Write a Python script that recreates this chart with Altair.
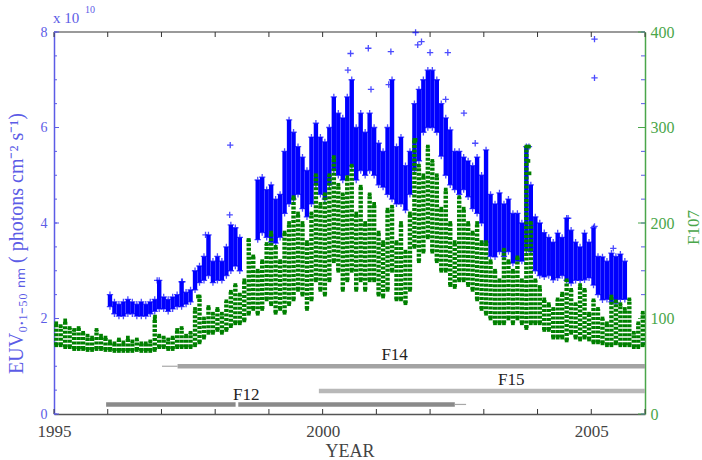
import altair as alt
import pandas as pd

W, H = 591, 382
BLUE = "#0000ff"
GREEN = "#008000"
BLUE_AX = "#5c5ce6"
GREEN_AX = "#4aa64a"
SERIF = "Liberation Serif"

# ---- F10.7 (green), monthly envelope, Jan 1995 .. Dec 2005 ----
green_lo = [
    72, 72, 70, 70, 68, 68, 68, 67, 67, 68, 68, 67,          # 1995
    67, 66, 66, 66, 66, 66, 67, 66, 66, 66, 67, 70,          # 1996
    70, 68, 68, 70, 70, 70, 70, 72, 75, 80, 85, 85,          # 1997
    88, 85, 88, 92, 95, 95, 98, 105, 110, 105, 110, 120,     # 1998
    115, 106, 110, 106, 115, 120, 130, 125, 110, 120, 140, 130,  # 1999
    125, 140, 160, 150, 130, 140, 150, 130, 140, 130, 140, 140,  # 2000
    125, 123, 130, 150, 120, 120, 116, 130, 175, 160, 170, 185,  # 2001
    170, 160, 150, 150, 135, 133, 140, 140, 135, 130, 120, 110,  # 2002
    105, 100, 95, 95, 95, 100, 95, 100, 95, 90, 95, 95,      # 2003
    95, 88, 88, 80, 80, 80, 77, 85, 80, 78, 80, 78,          # 2004
    75, 75, 74, 72, 72, 74, 72, 72, 72, 70, 70, 72,          # 2005
]
green_hi = [
    95, 92, 98, 90, 88, 90, 85, 82, 80, 88, 82, 80,
    76, 74, 78, 75, 80, 76, 78, 74, 74, 76, 100, 82,
    80, 78, 80, 88, 90, 82, 85, 110, 123, 100, 112, 105,
    110, 105, 118, 128, 135, 125, 140, 182, 165, 150, 160, 178,
    190, 175, 160, 190, 200, 227, 210, 200, 180, 210, 250, 220,
    230, 250, 269, 240, 230, 248, 260, 210, 238, 200, 230, 220,
    190, 180, 214, 217, 180, 200, 170, 210, 287, 260, 250, 280,
    265, 250, 215, 235, 200, 180, 227, 215, 200, 190, 200, 180,
    180, 160, 150, 140, 172, 160, 150, 164, 140, 280, 200, 140,
    133, 120, 115, 110, 120, 126, 140, 130, 115, 135, 130, 105,
    119, 110, 100, 95, 123, 118, 115, 110, 120, 85, 95, 106,
]

# ---- EUV 0.1-50 nm (blue, x 1e10), monthly envelope, Jan 1996 .. Aug 2005 ----
blue_lo = [
    2.25, 2.1, 2.05, 2.05, 2.1, 2.1, 2.05, 2.05, 2.05, 2.1, 2.15, 2.2,      # 1996
    2.2, 2.15, 2.2, 2.25, 2.25, 2.3, 2.35, 2.6, 2.75, 2.8, 2.9, 2.75,       # 1997
    2.8, 2.8, 2.9, 3.0, 3.1, 3.0, None, None, None, 3.65, 3.8, 3.7,         # 1998
    3.6, 3.58, 3.7, 4.2, 4.4, 4.5, 4.6, 4.3, 4.13, 4.4, 4.8, 4.6,           # 1999
    4.5, 4.8, 5.11, 5.0, 4.9, 5.0, 5.2, 4.9, 5.1, 5.0, 5.1, 5.0,            # 2000
    4.8, 4.75, 4.6, 4.5, 4.4, 4.4, 4.27, 4.6, 5.1, 5.3, 5.9, 6.0,           # 2001
    6.0, 5.9, 5.4, 5.0, 4.8, 4.7, 4.6, 4.7, 4.55, 4.3, 4.2, 4.0,            # 2002
    3.6, 3.3, 3.29, 3.4, 3.3, 3.4, 3.16, 3.2, 3.2, 3.43, 3.4, 3.0,          # 2003
    2.9, 2.87, 2.9, 2.81, 2.85, 2.9, 2.8, 2.74, 2.8, 2.8, 2.81, 2.85,       # 2004
    2.7, 2.5, 2.39, 2.4, 2.35, 2.32, 2.4, 2.4,                             # 2005
]
blue_hi = [
    2.5, 2.35, 2.3, 2.35, 2.4, 2.35, 2.3, 2.35, 2.3, 2.35, 2.4, 2.8,
    2.45, 2.4, 2.45, 2.5, 2.77, 2.55, 2.6, 3.0, 3.1, 3.3, 3.75, 3.2,
    3.3, 3.2, 3.5, 3.96, 3.9, 3.7, None, None, None, 4.9, 4.96, 4.7,
    4.8, 4.5, 4.6, 5.5, 6.16, 5.9, 5.6, 5.38, 5.1, 5.8, 6.09, 5.8,
    5.7, 6.0, 6.64, 6.3, 6.2, 6.64, 7.0, 6.0, 6.3, 5.9, 6.3, 6.0,
    5.67, 5.5, 6.0, 7.0, 5.6, 5.8, 5.2, 5.5, 6.5, 6.8, 7.0, 7.2,
    7.2, 7.0, 6.5, 6.2, 5.95, 5.5, 5.5, 5.38, 5.3, 5.2, 5.38, 5.0,
    5.53, 4.6, 4.4, 4.63, 4.4, 4.5, 4.2, 4.2, 4.0, 5.6, 4.8, 4.13,
    4.0, 3.8, 3.7, 3.6, 3.79, 3.7, 4.1, 3.85, 3.6, 3.5, 3.79, 3.6,
    3.9, 3.3, 3.29, 3.2, 3.37, 3.3, 3.35, 3.2,
]

# isolated points
blue_out_t = [1996.92, 1997.39, 1997.82, 1998.28, 1998.27, 2000.52, 2000.47, 2000.85, 2000.9,
              2001.27, 2001.23, 2001.73, 2001.77, 2001.84, 2002.0, 2002.33, 2002.29, 2002.63,
              2002.84, 2003.84, 2004.57, 2005.06, 2005.06, 2005.06, 2005.41]
blue_out_v = [2.8, 2.77, 3.75, 5.63, 4.17, 7.55, 7.2, 7.66, 6.8,
              7.59, 6.9, 7.99, 7.73, 7.8, 7.57, 7.57, 6.59, 6.3,
              5.67, 5.6, 4.1, 7.85, 7.04, 3.93, 3.47]
green_out_t = [1996.88, 1997.68, 1998.62, 2001.73, 2003.84, 2003.83, 2003.85]
green_out_v = [102, 123, 182, 287, 280, 265, 252]

# DMSP satellite coverage bars
sat_start = [1997.30, 1999.93, 1995.97, 1998.43]
sat_end = [2006.0, 2006.0, 1998.38, 2002.46]
sat_level = [1.0, 0.48, 0.2, 0.2]
sat_color = ["#a3a3a3", "#b8b8b8", "#8a8a8a", "#8a8a8a"]
thin_start = [1997.01, 2002.46]
thin_end = [1997.30, 2002.67]
thin_level = [1.0, 0.2]
sat_names = ["F14", "F15", "F12"]
sat_name_t = [2001.34, 2003.51, 1998.58]
sat_name_v = [1.24, 0.71, 0.40]

year_ticks = list(range(1995, 2007))
x_label_vals = [1995, 2000, 2005]
euv_major = [0, 2, 4, 6, 8]
euv_minor = [v / 2 for v in range(0, 17)]
f107_major = [0, 100, 200, 300, 400]

gdf = pd.DataFrame({"t": [1995 + (i + 0.5) / 12 for i in range(len(green_lo))],
                    "lo": green_lo, "hi": green_hi})
bdf = pd.DataFrame({"t": [1996 + (i + 0.5) / 12 for i in range(len(blue_lo))],
                    "lo": blue_lo, "hi": blue_hi}).dropna()
bout = pd.DataFrame({"t": blue_out_t, "lo": blue_out_v})
gout = pd.DataFrame({"t": green_out_t, "lo": green_out_v})
sat = pd.DataFrame({"t": sat_start, "e": sat_end, "lo": sat_level, "c": sat_color})
thin = pd.DataFrame({"t": thin_start, "e": thin_end, "lo": thin_level})
names = pd.DataFrame({"n": sat_names, "t": sat_name_t, "lo": sat_name_v})
yrs = pd.DataFrame({"t": year_ticks})
emaj = pd.DataFrame({"lo": euv_major})
emin = pd.DataFrame({"lo": euv_minor})
fmaj = pd.DataFrame({"lo": f107_major})

xscale = alt.Scale(domain=[1995, 2006], nice=False, zero=False)
yL = alt.Scale(domain=[0, 8], nice=False, zero=False)
yR = alt.Scale(domain=[0, 400], nice=False, zero=False)

EUV_TITLE = "EUV₀.₁₋₅₀ ₙₘ ( photons cm⁻² s⁻¹)"

x_axis = alt.Axis(
    values=x_label_vals, format="d", tickSize=0, labelPadding=9, labelFlush=False,
    domainColor="#555555", domainWidth=1.5, labelColor="#444444", labelFontSize=17,
    labelFont=SERIF, titleFont=SERIF,
    title="YEAR", titleColor="#444444", titleFontSize=18, titleFontWeight="normal",
    titlePadding=3, grid=False)
yl_axis = alt.Axis(
    values=euv_major, tickSize=0, labelPadding=7, labelColor=BLUE_AX, labelFontSize=14,
    labelFont=SERIF, titleFont=SERIF,
    domainColor=BLUE_AX, domainWidth=1.5, grid=False,
    title=EUV_TITLE, titleColor=BLUE_AX, titleFontSize=20,
    titleFontWeight="normal", titleAngle=270, titleX=-32, titleY=211,
    titleAlign="center", titleBaseline="alphabetic")
yr_axis = alt.Axis(
    orient="right", values=f107_major, tickSize=0, labelPadding=5, labelColor=GREEN_AX,
    labelFontSize=16, labelFont=SERIF, titleFont=SERIF,
    domainColor=GREEN_AX, domainWidth=1.5, grid=False,
    title="F107", titleColor=GREEN_AX, titleFontSize=17, titleFontWeight="normal",
    titleAngle=270, titleX=53, titleY=195, titleAlign="center", titleBaseline="alphabetic")

X = alt.X("t:Q", scale=xscale, axis=x_axis, title="YEAR")
YL = alt.Y("lo:Q", scale=yL, axis=yl_axis, title=EUV_TITLE)
YR = alt.Y("lo:Q", scale=yR, axis=yr_axis, title="F107")

PLUS = "M-1,0H1M0,-1V1"

blue_rules = alt.Chart(bdf).mark_rule(color=BLUE, strokeWidth=4.4).encode(x=X, y=YL, y2="hi:Q")
blue_lo_pts = alt.Chart(bdf).mark_point(shape=PLUS, color=BLUE, size=40, strokeWidth=1.3).encode(x=X, y=YL)
blue_hi_pts = alt.Chart(bdf).mark_point(shape=PLUS, color=BLUE, size=40, strokeWidth=1.3).encode(
    x=X, y=alt.Y("hi:Q", scale=yL, axis=yl_axis, title=EUV_TITLE))
blue_out = alt.Chart(bout).mark_point(shape=PLUS, color=BLUE, size=40, strokeWidth=1.3).encode(x=X, y=YL)

bars = alt.Chart(sat).mark_rule(strokeWidth=4.5).encode(
    x=X, x2="e:Q", y=YL, color=alt.Color("c:N", scale=None))
thin_bars = alt.Chart(thin).mark_rule(strokeWidth=1.2, color="#a8a8a8").encode(x=X, x2="e:Q", y=YL)
name_text = alt.Chart(names).mark_text(font=SERIF, fontSize=17, color="#222222").encode(
    x=X, y=YL, text="n:N")

top_border = alt.Chart(yrs).mark_rule(color="#9a9a9a", strokeWidth=1.5).encode(
    x=alt.value(0), x2=alt.value(W), y=alt.value(0))
bot_ticks = alt.Chart(yrs).mark_rule(color="#333333", strokeWidth=1).encode(
    x=X, y=alt.value(H), y2=alt.value(H - 5))
top_ticks = alt.Chart(yrs).mark_rule(color="#333333", strokeWidth=1).encode(
    x=X, y=alt.value(0), y2=alt.value(5))
l_minor = alt.Chart(emin).mark_rule(color=BLUE_AX, strokeWidth=1).encode(
    y=YL, x=alt.value(0), x2=alt.value(3))
l_major = alt.Chart(emaj).mark_rule(color=BLUE_AX, strokeWidth=1).encode(
    y=YL, x=alt.value(0), x2=alt.value(5))
r_minor = alt.Chart(emin).mark_rule(color=BLUE_AX, strokeWidth=1).encode(
    y=YL, x=alt.value(W - 4), x2=alt.value(W))

x10 = alt.Chart(pd.DataFrame({"s": ["x 10"]})).mark_text(
    font=SERIF, fontSize=15, color=BLUE_AX, align="left", baseline="alphabetic").encode(
    x=alt.value(-1), y=alt.value(-9), text="s:N")
x10e = alt.Chart(pd.DataFrame({"s": ["10"]})).mark_text(
    font=SERIF, fontSize=10, color=BLUE_AX, align="left", baseline="alphabetic").encode(
    x=alt.value(31), y=alt.value(-19), text="s:N")

left = alt.layer(blue_rules, top_border, bot_ticks, top_ticks, l_minor, l_major, r_minor,
                 bars, thin_bars, name_text, blue_lo_pts, blue_hi_pts, blue_out, x10, x10e)

green_rules = alt.Chart(gdf).mark_rule(color=GREEN, strokeWidth=4.4, strokeDash=[3, 1.5]).encode(
    x=X, y=YR, y2="hi:Q")
green_lo_pts = alt.Chart(gdf).mark_square(color=GREEN, size=14, opacity=1).encode(x=X, y=YR)
green_hi_pts = alt.Chart(gdf).mark_square(color=GREEN, size=14, opacity=1).encode(
    x=X, y=alt.Y("hi:Q", scale=yR, axis=yr_axis, title="F107"))
green_out = alt.Chart(gout).mark_square(color=GREEN, size=14, opacity=1).encode(x=X, y=YR)
r_major = alt.Chart(fmaj).mark_rule(color=GREEN_AX, strokeWidth=1).encode(
    y=YR, x=alt.value(W - 7), x2=alt.value(W))

right = alt.layer(green_rules, green_lo_pts, green_hi_pts, green_out, r_major)

chart = alt.layer(left, right).resolve_scale(y="independent").properties(
    width=W, height=H,
    autosize=alt.AutoSizeParams(type="none"),
    padding={"left": 54, "top": 32, "right": 57, "bottom": 46},
    background="white",
).configure_view(stroke=None)

chart.save("out.html", embed_options={"renderer": "svg", "actions": False})
